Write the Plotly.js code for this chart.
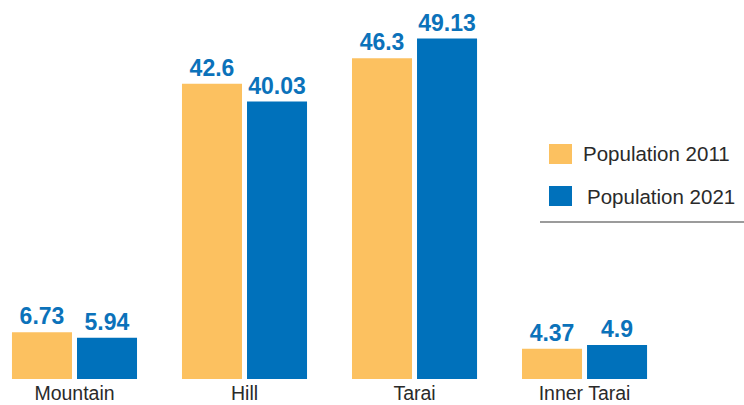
<!DOCTYPE html>
<html>
<head>
<meta charset="utf-8">
<script src="https://cdn.plot.ly/plotly-3.0.1.min.js"></script>
<style>html,body{margin:0;padding:0;background:#fff;}#chart{width:744px;height:405px;}</style>
</head>
<body>
<div id="chart"></div>
<script>
const categories = ["Mountain", "Hill", "Tarai", "Inner Tarai"];
const seriesNames = ["Population 2011", "Population 2021"];
const pop2011 = [6.73, 42.6, 46.3, 4.37];
const pop2021 = [5.94, 40.03, 49.13, 4.9];
const labels2011 = ["6.73", "42.6", "46.3", "4.37"];
const labels2021 = ["5.94", "40.03", "49.13", "4.9"];

const colors = ["#FCC160", "#0071BB"];
const labelFont = {family: "Liberation Sans, Arial, sans-serif", size: 23, color: "#0B72BA", weight: "bold"};

function barTrace(name, vals, labels, color) {
  return {
    type: "bar", name: name, x: categories, y: vals,
    text: labels, textposition: "outside", texttemplate: "<b>%{text}</b>",
    textfont: labelFont, constraintext: "none", cliponaxis: false,
    marker: {color: color}, hoverinfo: "none"
  };
}

const data = [
  barTrace(seriesNames[0], pop2011, labels2011, colors[0]),
  barTrace(seriesNames[1], pop2021, labels2021, colors[1])
];

const plotH = 379;
const legendY = [154, 196];
const shapes = [];
const annotations = [];
seriesNames.forEach((n, i) => {
  shapes.push({type: "rect", xref: "paper", yref: "paper",
    x0: 549/744, x1: 572/744, y0: 1 - (legendY[i] + 10)/plotH, y1: 1 - (legendY[i] - 10)/plotH,
    fillcolor: colors[i], line: {width: 0}});
  annotations.push({xref: "paper", yref: "paper", x: (581 + i*4)/744, y: 1 - legendY[i]/plotH,
    xanchor: "left", yanchor: "middle", showarrow: false, text: n,
    font: {family: "Liberation Sans, Arial, sans-serif", size: 20.5, color: "#2a2a2a"}});
});
shapes.push({type: "line", xref: "paper", yref: "paper", x0: 540/744, x1: 1,
  y0: 1 - 222/plotH, y1: 1 - 222/plotH, line: {color: "#7a7a7a", width: 1.5}});

const layout = {
  width: 744, height: 405,
  margin: {l: 0, r: 0, t: 0, b: 26},
  paper_bgcolor: "#fff", plot_bgcolor: "#fff",
  barmode: "group", bargap: 0.235, bargroupgap: 0.077,
  showlegend: false,
  xaxis: {type: "category", range: [-0.4382, 3.938], showgrid: false, zeroline: false,
    showline: false, ticks: "", ticklen: 0, ticklabelstandoff: 0,
    tickfont: {family: "Liberation Sans, Arial, sans-serif", size: 19.5, color: "#2a2a2a"}},
  yaxis: {range: [0, 54.69], visible: false, showgrid: false, zeroline: false},
  shapes: shapes, annotations: annotations
};

Plotly.newPlot("chart", data, layout, {staticPlot: true, displayModeBar: false});
</script>
</body>
</html>
